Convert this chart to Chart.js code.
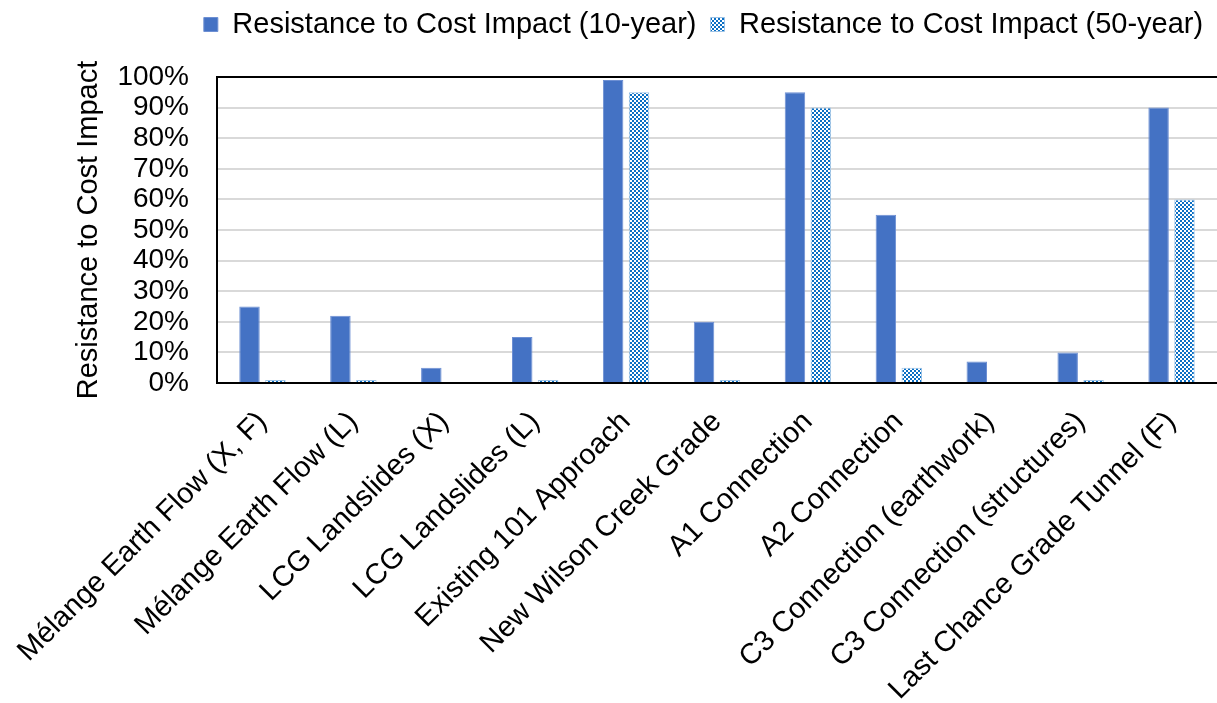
<!DOCTYPE html>
<html>
<head>
<meta charset="utf-8">
<script src="https://cdn.jsdelivr.net/npm/chart.js@4/dist/chart.umd.min.js"></script>
<style>
html,body{margin:0;padding:0;background:#fff;}
#wrap{width:1217px;height:703px;}
</style>
</head>
<body>
<div id="wrap"><canvas id="c" width="1217" height="703"></canvas></div>
<script>
const categories = [
  "Mélange Earth Flow (X, F)",
  "Mélange Earth Flow (L)",
  "LCG Landslides (X)",
  "LCG Landslides (L)",
  "Existing 101 Approach",
  "New Wilson Creek Grade",
  "A1 Connection",
  "A2 Connection",
  "C3 Connection (earthwork)",
  "C3 Connection (structures)",
  "Last Chance Grade Tunnel (F)"
];
const series10Name = "Resistance to Cost Impact (10-year)";
const series50Name = "Resistance to Cost Impact (50-year)";
const values10 = [25, 22, 5, 15, 99, 20, 95, 55, 7, 10, 90];
const values50 = [1, 1, 0, 1, 95, 1, 90, 5, 0, 1, 60];
const yTicks = [0, 10, 20, 30, 40, 50, 60, 70, 80, 90, 100];
const yTitle = "Resistance to Cost Impact";

// checkered pattern for 50-year series
const pc = document.createElement('canvas');
pc.width = 4; pc.height = 4;
const pctx = pc.getContext('2d');
pctx.fillStyle = '#ffffff';
pctx.fillRect(0, 0, 4, 4);
pctx.fillStyle = '#0b6fc4';
pctx.fillRect(0, 0, 2, 2);
pctx.fillRect(2, 2, 2, 2);
const ctx = document.getElementById('c').getContext('2d');
const pattern = ctx.createPattern(pc, 'repeat');

const FONT = "'Liberation Sans', Arial, sans-serif";
const FS = 29;
Chart.defaults.font.family = FONT;
Chart.defaults.color = '#000';

const legendShift = {
  id: 'legendShift',
  afterLayout(chart) {
    const lg = chart.legend;
    if (!lg) return;
    const dx = 95, dy = -28;
    lg.left += dx; lg.right += dx;
    lg.top += dy; lg.bottom += dy;
    if (lg.legendHitBoxes) lg.legendHitBoxes.forEach(h => { h.left += dx; h.top += dy; });
  }
};

new Chart(ctx, {
  type: 'bar',
  data: {
    labels: categories,
    datasets: [
      {
        label: series10Name,
        data: values10,
        backgroundColor: '#4472c4',
        borderColor: '#6d8fd3',
        borderWidth: 1,
        categoryPercentage: 0.57,
        barPercentage: 0.79
      },
      {
        label: series50Name,
        data: values50,
        backgroundColor: pattern,
        borderColor: '#9dc3e6',
        borderWidth: 1,
        categoryPercentage: 0.57,
        barPercentage: 0.79
      }
    ]
  },
  plugins: [legendShift],
  options: {
    responsive: false,
    animation: false,
    devicePixelRatio: 1,
    layout: { padding: { top: 24, right: 0, left: 0, bottom: 0 } },
    plugins: {
      legend: {
        position: 'top',
        align: 'center',
        labels: {
          font: { size: FS, family: FONT },
          color: '#000',
          boxWidth: 14,
          boxHeight: 14,
          padding: 14
        }
      },
      tooltip: { enabled: false }
    },
    scales: {
      x: {
        grid: { display: false, drawTicks: false },
        border: { display: true, color: '#000', width: 2 },
        ticks: {
          font: { size: FS, family: FONT },
          color: '#000',
          minRotation: 45,
          maxRotation: 45,
          autoSkip: false,
          padding: 22
        },
        afterFit(scale) {
          scale.height = 320;
          scale.paddingLeft = 0;
          scale.paddingRight = 0;
        }
      },
      y: {
        min: 0,
        max: 100,
        afterBuildTicks(scale) { scale.ticks = yTicks.map(v => ({ value: v })); },
        grid: {
          drawTicks: false,
          color: c => (c.tick && c.tick.value === 100) ? '#000' : '#d9d9d9',
          lineWidth: 2
        },
        border: { display: true, color: '#000', width: 2 },
        ticks: {
          font: { size: 28, family: FONT },
          color: '#000',
          padding: 28,
          autoSkip: false,
          callback: v => v + '%'
        },
        title: {
          display: true,
          text: yTitle,
          font: { size: FS, family: FONT },
          color: '#000',
          padding: { top: 72, bottom: 0 }
        },
        afterFit(scale) { scale.width = 217; }
      }
    }
  }
});
</script>
</body>
</html>
